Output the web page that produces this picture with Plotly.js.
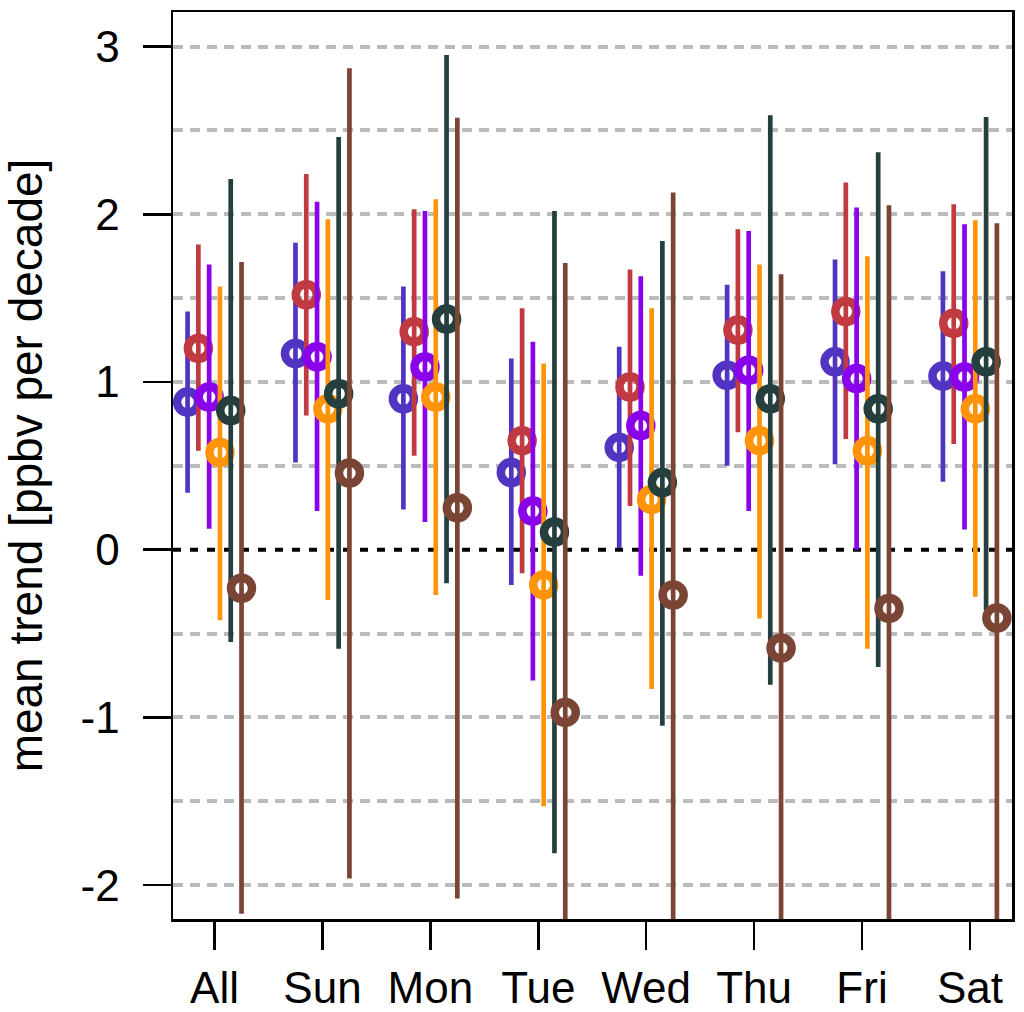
<!DOCTYPE html>
<html>
<head>
<meta charset="utf-8">
<script src="https://cdn.plot.ly/plotly-3.0.1.min.js"></script>
<style>html,body{margin:0;padding:0;background:#fff;}#chart{width:1024px;height:1012px;}</style>
</head>
<body>
<div id="chart"></div>
<script>
// ---- data ----
const categories = ["All", "Sun", "Mon", "Tue", "Wed", "Thu", "Fri", "Sat"];
const yTickValues = [-2, -1, 0, 1, 2, 3];
const yTickLabels = ["-2", "-1", "0", "1", "2", "3"];
const yGridValues = [-2, -1.5, -1, -0.5, 0.5, 1, 1.5, 2, 2.5, 3];

// series 1 (blue)
const blueMean = [0.88, 1.17, 0.90, 0.46, 0.61, 1.04, 1.12, 1.035];
const blueLow  = [0.34, 0.52, 0.24, -0.21, 0.01, 0.50, 0.51, 0.405];
const blueHigh = [1.42, 1.83, 1.57, 1.14, 1.21, 1.58, 1.73, 1.66];
// series 2 (red)
const redMean = [1.20, 1.52, 1.30, 0.65, 0.97, 1.31, 1.42, 1.35];
const redLow  = [0.59, 0.80, 0.56, -0.14, 0.26, 0.70, 0.66, 0.63];
const redHigh = [1.82, 2.24, 2.03, 1.44, 1.67, 1.91, 2.19, 2.06];
// series 3 (purple)
const purpleMean = [0.91, 1.15, 1.09, 0.23, 0.74, 1.07, 1.02, 1.03];
const purpleLow  = [0.125, 0.23, 0.165, -0.78, -0.155, 0.23, 0.00, 0.12];
const purpleHigh = [1.70, 2.075, 2.02, 1.24, 1.63, 1.90, 2.04, 1.94];
// series 4 (orange)
const orangeMean = [0.58, 0.84, 0.91, -0.21, 0.30, 0.65, 0.59, 0.84];
const orangeLow  = [-0.42, -0.30, -0.27, -1.53, -0.83, -0.41, -0.59, -0.28];
const orangeHigh = [1.57, 1.97, 2.09, 1.11, 1.44, 1.70, 1.75, 1.965];
// series 5 (dark slate)
const darkMean = [0.83, 0.93, 1.375, 0.105, 0.40, 0.90, 0.84, 1.12];
const darkLow  = [-0.55, -0.59, -0.20, -1.81, -1.05, -0.805, -0.70, -0.36];
const darkHigh = [2.21, 2.46, 2.95, 2.02, 1.84, 2.59, 2.37, 2.58];
// series 6 (brown)
const brownMean = [-0.23, 0.457, 0.25, -0.97, -0.27, -0.586, -0.35, -0.407];
const brownLow  = [-2.17, -1.96, -2.08, -2.5, -2.5, -2.5, -2.5, -2.5];
const brownHigh = [1.715, 2.87, 2.576, 1.71, 2.13, 1.643, 2.054, 1.946];

// ---- styling ----
const seriesList = [
  {name: "series 1", mean: blueMean, low: blueLow, high: blueHigh, color: "#5234C2"},
  {name: "series 2", mean: redMean, low: redLow, high: redHigh, color: "#C13A41"},
  {name: "series 3", mean: purpleMean, low: purpleLow, high: purpleHigh, color: "#8A02EA"},
  {name: "series 4", mean: orangeMean, low: orangeLow, high: orangeHigh, color: "#FF9408"},
  {name: "series 5", mean: darkMean, low: darkLow, high: darkHigh, color: "#243F3D"},
  {name: "series 6", mean: brownMean, low: brownLow, high: brownHigh, color: "#7B4535"}
];
const groupOffsets = [-0.25, -0.15, -0.05, 0.05, 0.15, 0.25];

const traces = seriesList.map((s, i) => ({
  type: "scatter",
  mode: "markers",
  name: s.name,
  x: categories.map((c, k) => k + 1 + groupOffsets[i]),
  y: s.mean,
  error_y: {
    type: "data",
    symmetric: false,
    array: s.high.map((h, k) => h - s.mean[k]),
    arrayminus: s.mean.map((m, k) => m - s.low[k]),
    width: 0,
    thickness: 4.7,
    color: s.color
  },
  marker: {symbol: "circle-open", size: 21, color: s.color, line: {width: 8.5, color: s.color}},
  showlegend: false,
  hoverinfo: "x+y"
}));

const fontFam = "Liberation Sans, Arial, Helvetica, sans-serif";
const layout = {
  width: 1024,
  height: 1012,
  margin: {l: 173, r: 12, t: 12, b: 93},
  paper_bgcolor: "#ffffff",
  plot_bgcolor: "#ffffff",
  font: {family: fontFam, size: 44, color: "#000000"},
  showlegend: false,
  xaxis: {
    range: [0.615, 8.39],
    tickmode: "array",
    tickvals: categories.map((c, k) => k + 1),
    ticktext: categories,
    ticks: "outside",
    ticklen: 28,
    tickwidth: 2.5,
    tickcolor: "#000",
    ticklabelstandoff: 1,
    showgrid: false,
    zeroline: false,
    showline: true,
    mirror: true,
    linecolor: "#000",
    linewidth: 2.5,
    tickfont: {family: fontFam, size: 44, color: "#000"}
  },
  yaxis: {
    range: [-2.202, 3.206],
    tickmode: "array",
    tickvals: yTickValues,
    ticktext: yTickLabels,
    ticks: "outside",
    ticklen: 28,
    tickwidth: 2.5,
    tickcolor: "#000",
    ticklabelstandoff: 14,
    showgrid: false,
    minor: {tickmode: "array", tickvals: yGridValues, showgrid: true, gridcolor: "#BBBBBB", gridwidth: 4, griddash: "10px,7px", ticks: ""},
    zeroline: false,
    showline: true,
    mirror: true,
    linecolor: "#000",
    linewidth: 2.5,
    tickfont: {family: fontFam, size: 44, color: "#000"},
    title: {text: "mean trend [ppbv per decade]", font: {family: fontFam, size: 46, color: "#000"}, standoff: 32}
  },
  shapes: [{
    type: "line", xref: "paper", yref: "y", x0: 0, x1: 1, y0: 0, y1: 0,
    line: {color: "#000", width: 4, dash: "8px,9px"}, layer: "below"
  }]
};

Plotly.newPlot("chart", traces, layout, {displayModeBar: false, staticPlot: true});
</script>
</body>
</html>
